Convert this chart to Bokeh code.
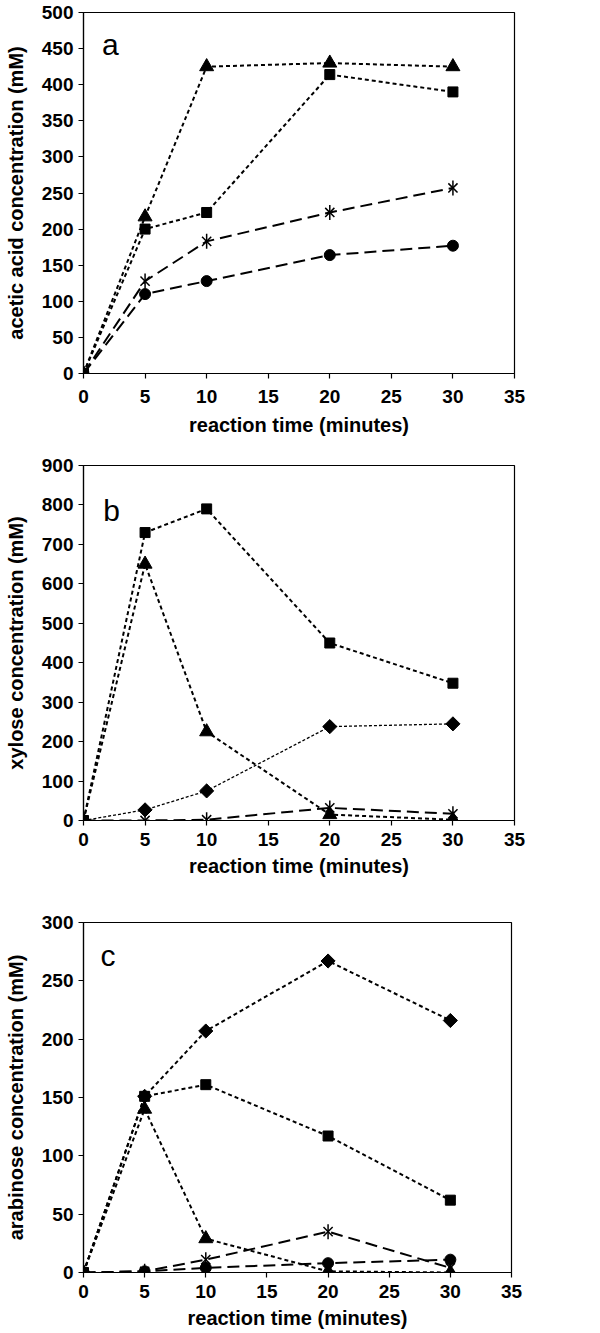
import numpy as np
from bokeh.plotting import figure
from bokeh.layouts import column
from bokeh.models import FixedTicker, Label
from bokeh.embed import file_html
from bokeh.resources import INLINE

# ---- data ----
time = [0, 5, 10, 20, 30]

# panel a: acetic acid (mM)
a_triangle = [0, 217, 425, 430, 425]
a_square = [0, 200, 223, 414, 390]
a_star = [0, 128, 183, 223, 257]
a_circle = [0, 110, 128, 164, 177]

# panel b: xylose (mM)
b_square = [0, 730, 790, 450, 348]
b_triangle = [0, 650, 225, 15, 2]
b_diamond = [0, 27, 75, 238, 245]
b_star = [0, 0, 2, 32, 17]

# panel c: arabinose (mM)
c_diamond = [0, 151, 207, 267, 216]
c_square = [0, 151, 161, 117, 62]
c_triangle = [0, 140, 29, 1, 0]
c_star = [0, 1, 11, 35, 4]
c_circle = [0, 1, 4, 8, 11]

x_ticks = [0, 5, 10, 15, 20, 25, 30, 35]
FONT = "Liberation Sans"
TOTAL_W = 600


def make_fig(ymax, ystep, ylabel, letter, letter_x, letter_y,
             left, top, frame_h, bottom, frame_w, xl_standoff=7, xt_standoff=6):
    p = figure(x_range=(0, 35), y_range=(0, ymax),
               frame_width=frame_w, frame_height=frame_h,
               min_border_left=left, min_border_right=TOTAL_W - left - frame_w,
               min_border_top=top, min_border_bottom=bottom,
               output_backend="svg", toolbar_location=None)
    p.grid.visible = False
    p.outline_line_color = "black"
    p.outline_line_width = 1.2
    p.background_fill_color = "white"
    p.border_fill_color = "white"
    p.xaxis.ticker = FixedTicker(ticks=x_ticks)
    p.yaxis.ticker = FixedTicker(ticks=list(range(0, ymax + 1, ystep)))
    for ax in (p.xaxis[0], p.yaxis[0]):
        ax.major_tick_in = 0
        ax.major_tick_out = 5
        ax.minor_tick_in = 0
        ax.minor_tick_out = 0
        ax.axis_line_color = "black"
        ax.axis_line_width = 1.2
        ax.major_tick_line_color = "black"
        ax.major_tick_line_width = 1.2
        ax.major_label_text_font = FONT
        ax.major_label_text_font_style = "bold"
        ax.major_label_text_font_size = "19px"
        ax.major_label_text_color = "black"
        ax.axis_label_text_font = FONT
        ax.axis_label_text_font_style = "bold"
        ax.axis_label_text_font_size = "20px"
        ax.axis_label_text_color = "black"
    p.xaxis.axis_label = "reaction time (minutes)"
    p.yaxis.axis_label = ylabel
    p.xaxis.major_label_standoff = xl_standoff
    p.yaxis.major_label_standoff = 5
    p.xaxis.axis_label_standoff = xt_standoff
    p.yaxis.axis_label_standoff = 12
    p.add_layout(Label(x=letter_x, y=letter_y, text=letter,
                       text_font=FONT, text_font_size="30px",
                       text_color="black", text_align="left",
                       text_baseline="alphabetic"))
    return p


SHORT = "4 3"
LONG = "12 6"
FINE = "3 2"


def series(p, y, marker, dash, lw=2.0):
    p.line(time, y, line_color="black", line_width=lw, line_dash=dash)
    if marker == "star":
        p.scatter(time, y, marker="x", size=13, line_color="black", line_width=1.5)
        p.scatter(time, y, marker="dash", size=15, angle=np.pi / 2,
                  line_color="black", line_width=1.5)
    elif marker == "triangle":
        p.scatter(time, y, marker="triangle", size=14, color="black")
    elif marker == "square":
        p.scatter(time, y, marker="square", size=10, color="black")
    elif marker == "circle":
        p.scatter(time, y, marker="circle", size=11, color="black")
    elif marker == "diamond":
        p.scatter(time, y, marker="square", size=10, angle=np.pi / 4, color="black")


pa = make_fig(500, 50, "acetic acid concentration (mM)", "a", 1.5, 455,
              left=80, top=12, frame_h=361, bottom=72, frame_w=431,
              xl_standoff=11, xt_standoff=8)
series(pa, a_circle, "circle", LONG)
series(pa, a_star, "star", LONG)
series(pa, a_square, "square", SHORT)
series(pa, a_triangle, "triangle", SHORT)

pb = make_fig(900, 100, "xylose concentration (mM)", "b", 1.6, 786,
              left=80, top=20, frame_h=355, bottom=75, frame_w=431)
series(pb, b_star, "star", LONG)
series(pb, b_diamond, "diamond", FINE, lw=1.3)
series(pb, b_triangle, "triangle", SHORT)
series(pb, b_square, "square", SHORT)

pc = make_fig(300, 50, "arabinose concentration (mM)", "c", 1.4, 272,
              left=83, top=27, frame_h=350, bottom=58, frame_w=428)
series(pc, c_circle, "circle", LONG)
series(pc, c_star, "star", LONG)
series(pc, c_triangle, "triangle", SHORT)
series(pc, c_square, "square", SHORT)
series(pc, c_diamond, "diamond", SHORT)

layout = column(pa, pb, pc, spacing=0)
open("out.html", "w").write(file_html(layout, INLINE))
